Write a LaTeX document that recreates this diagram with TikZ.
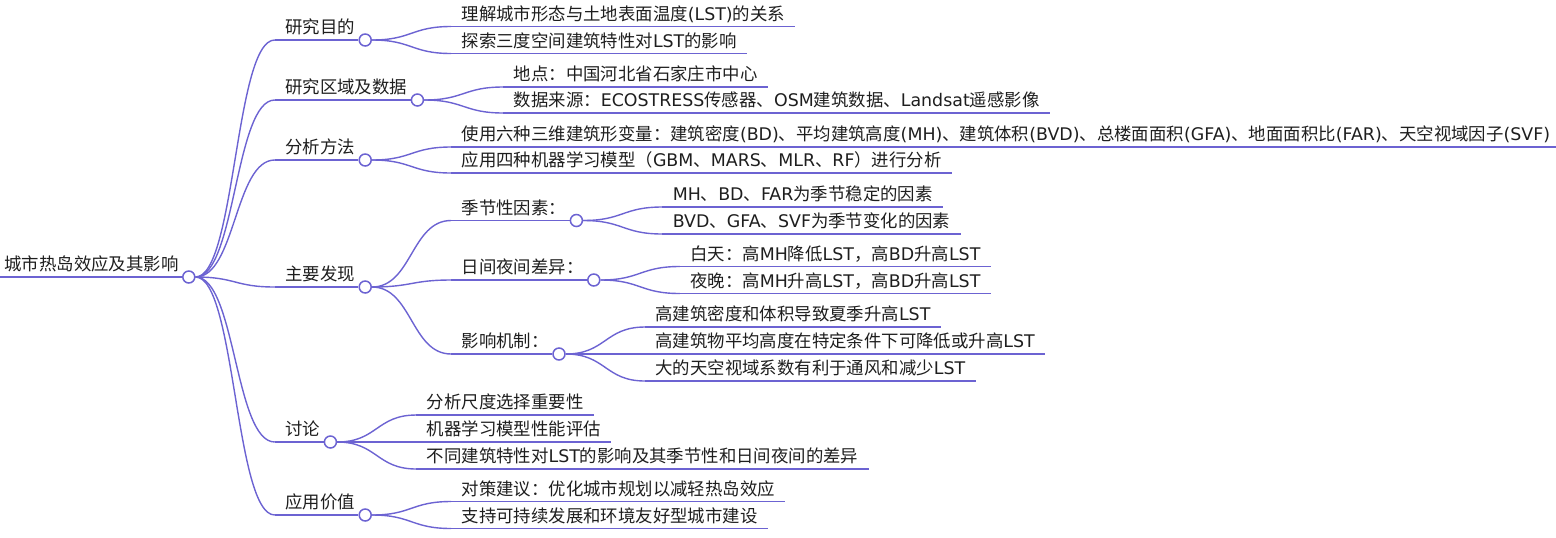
\documentclass[tikz,border=0pt]{standalone}
\usepackage{fontspec}
\setmainfont{Noto Sans CJK SC}
\newfontfamily\lat{DejaVu Sans}
\usetikzlibrary{calc}
\definecolor{linkc}{RGB}{108,99,210}
\definecolor{txtc}{RGB}{30,30,30}
\tikzset{
  topic/.style={anchor=south west, inner xsep=5pt, inner ysep=1.2pt, text height=7pt, text depth=1.8pt, text=txtc, font=\fontsize{8.7pt}{10pt}\selectfont},
  dot/.style={circle, draw=linkc, fill=white, line width=0.75pt, minimum size=6pt, inner sep=0pt},
  uline/.style={draw=linkc, line width=0.8pt},
  link/.style={draw=linkc, line width=0.7pt},
}

\begin{document}
\begin{tikzpicture}[x=0.5pt, y=-0.5pt]
\useasboundingbox (0,0) rectangle (1556,537);
\path (-6,277) node[topic] (city) {城市热岛效应及其影响};
\node[dot] (city-o) at (city.south east) {};

\path ($(city.south east)+(86,-237)$) node[topic] (aim) {研究目的};
\path ($(city.south east)+(86,-177)$) node[topic] (area) {研究区域及数据};
\path ($(city.south east)+(86,-117)$) node[topic] (meth) {分析方法};
\path ($(city.south east)+(86,10)$) node[topic] (find) {主要发现};
\path ($(city.south east)+(86,165)$) node[topic] (disc) {讨论};
\path ($(city.south east)+(86,238)$) node[topic] (app) {应用价值};
\foreach \n in {aim,area,meth,find,disc,app}
  \node[dot] (\n-o) at (\n.south east) {};

\path ($(aim.south east)+(86,-13.5)$) node[topic] (aim1) {理解城市形态与土地表面温度{\lat (LST)}的关系};
\path ($(aim.south east)+(86,13.5)$) node[topic] (aim2) {探索三度空间建筑特性对{\lat LST}的影响};
\path ($(area.south east)+(86,-13)$) node[topic] (area1) {地点：中国河北省石家庄市中心};
\path ($(area.south east)+(86,13)$) node[topic] (area2) {数据来源：{\lat ECOSTRESS}传感器、{\lat OSM}建筑数据、{\lat Landsat}遥感影像};
\path ($(meth.south east)+(86,-13)$) node[topic] (meth1) {使用六种三维建筑形变量：建筑密度{\lat (BD)}、平均建筑高度{\lat (MH)}、建筑体积{\lat (BVD)}、总楼面面积{\lat (GFA)}、地面面积比{\lat (FAR)}、天空视域因子{\lat (SVF)}};
\path ($(meth.south east)+(86,13)$) node[topic] (meth2) {应用四种机器学习模型（{\lat GBM}、{\lat MARS}、{\lat MLR}、{\lat RF}）进行分析};
\path ($(find.south east)+(86,-66.5)$) node[topic] (season) {季节性因素：};
\path ($(find.south east)+(86,-7)$) node[topic] (daynight) {日间夜间差异：};
\path ($(find.south east)+(86,67)$) node[topic] (mech) {影响机制：};
\path ($(disc.south east)+(86,-27)$) node[topic] (disc1) {分析尺度选择重要性};
\path ($(disc.south east)+(86,0)$) node[topic] (disc2) {机器学习模型性能评估};
\path ($(disc.south east)+(86,27)$) node[topic] (disc3) {不同建筑特性对{\lat LST}的影响及其季节性和日间夜间的差异};
\path ($(app.south east)+(86,-13.5)$) node[topic] (app1) {对策建议：优化城市规划以减轻热岛效应};
\path ($(app.south east)+(86,13.5)$) node[topic] (app2) {支持可持续发展和环境友好型城市建设};
\foreach \n in {season,daynight,mech}
  \node[dot] (\n-o) at (\n.south east) {};

\path ($(season.south east)+(86,-13.5)$) node[topic] (season1) {{\lat MH}、{\lat BD}、{\lat FAR}为季节稳定的因素};
\path ($(season.south east)+(86,13.5)$) node[topic] (season2) {{\lat BVD}、{\lat GFA}、{\lat SVF}为季节变化的因素};
\path ($(daynight.south east)+(86,-13.5)$) node[topic] (dn1) {白天：高{\lat MH}降低{\lat LST}，高{\lat BD}升高{\lat LST}};
\path ($(daynight.south east)+(86,13.5)$) node[topic] (dn2) {夜晚：高{\lat MH}升高{\lat LST}，高{\lat BD}升高{\lat LST}};
\path ($(mech.south east)+(86,-27)$) node[topic] (mech1) {高建筑密度和体积导致夏季升高{\lat LST}};
\path ($(mech.south east)+(86,0)$) node[topic] (mech2) {高建筑物平均高度在特定条件下可降低或升高{\lat LST}};
\path ($(mech.south east)+(86,27)$) node[topic] (mech3) {大的天空视域系数有利于通风和减少{\lat LST}};

\draw[uline, line width=1.3pt] (city.south west) -- (city-o.west);
\foreach \n in {aim,area,meth,find,disc,app,season,daynight,mech}
  \draw[uline] (\n.south west) -- (\n-o.west);
\foreach \n in {aim1,aim2,area1,area2,meth1,meth2,disc1,disc2,disc3,app1,app2,season1,season2,dn1,dn2,mech1,mech2,mech3}
  \draw[uline] (\n.south west) -- (\n.south east);

\foreach \p/\c in {city/aim,city/area,city/meth,city/find,city/disc,city/app,aim/aim1,aim/aim2,area/area1,area/area2,meth/meth1,meth/meth2,find/season,find/daynight,find/mech,disc/disc1,disc/disc2,disc/disc3,app/app1,app/app2,season/season1,season/season2,daynight/dn1,daynight/dn2,mech/mech1,mech/mech2,mech/mech3}
  \draw[link] (\p-o.east) .. controls +(40,0) and +(-40,0) .. (\c.south west);
\end{tikzpicture}
\end{document}
